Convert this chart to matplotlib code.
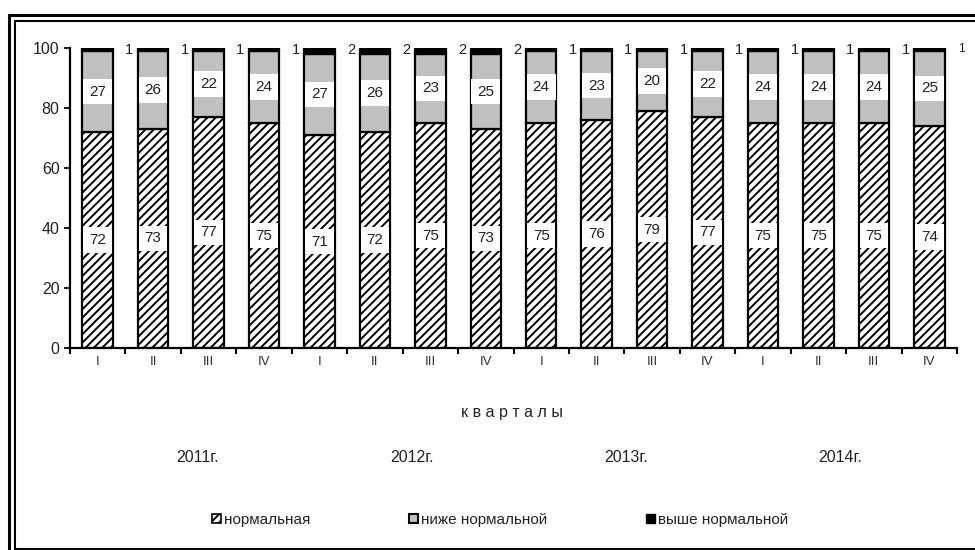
import matplotlib.pyplot as plt
import matplotlib.patches as mpatches
from matplotlib.lines import Line2D
import numpy as np

plt.rcParams['font.family'] = ['Liberation Sans', 'DejaVu Sans']
plt.rcParams['hatch.linewidth'] = 1.4

quarters = ['I', 'II', 'III', 'IV'] * 4
years = ['2011г.', '2012г.', '2013г.', '2014г.']
normal = [72, 73, 77, 75, 71, 72, 75, 73, 75, 76, 79, 77, 75, 75, 75, 74]
below = [27, 26, 22, 24, 27, 26, 23, 25, 24, 23, 20, 22, 24, 24, 24, 25]
above = [1, 1, 1, 1, 2, 2, 2, 2, 1, 1, 1, 1, 1, 1, 1, 1]
legend_labels = ['нормальная', 'ниже нормальной', 'выше нормальной']

W, H = 975, 550
fig = plt.figure(figsize=(W / 100, H / 100), dpi=100)
ax = fig.add_axes([70 / W, 1 - 348 / H, (957 - 70) / W, 300 / H])

x = np.arange(len(normal))
normal = np.array(normal)
below = np.array(below)
above = np.array(above)
bw = 0.55

ax.bar(x, normal, bw, color='white', edgecolor='black', hatch='////', linewidth=1.6)
ax.bar(x, below, bw, bottom=normal, color='#c0c0c0', edgecolor='black', linewidth=1.6)
ax.bar(x, above, bw, bottom=normal + below, color='black', edgecolor='black', linewidth=1.6)

box = dict(boxstyle='square,pad=0.38', fc='white', ec='none')
for i in x:
    ax.text(i, normal[i] / 2, str(normal[i]), ha='center', va='center',
            fontsize=11, color='#222222', bbox=box)
    ax.text(i, normal[i] + below[i] / 2, str(below[i]), ha='center', va='center',
            fontsize=11, color='#222222', bbox=box)
    fs = 8.5 if i == len(x) - 1 else 10.5
    ax.text(i + 0.57, 99.5, str(above[i]), ha='center', va='center', fontsize=fs,
            color='#222222')

ax.set_xlim(-0.5, len(x) - 0.5)
ax.set_ylim(0, 100)
ax.set_yticks(range(0, 101, 20))
ax.tick_params(axis='y', labelsize=11.5, length=4, width=1.5, colors='#222222')
ax.set_xticks(x)
ax.set_xticklabels(quarters, fontsize=9.5, color='#333333')
ax.tick_params(axis='x', length=0, pad=6)
ax.set_xticks(np.arange(-0.5, len(x), 1), minor=True)
ax.tick_params(axis='x', which='minor', length=4, width=1.5)
for s in ['top', 'right']:
    ax.spines[s].set_visible(False)
for s in ['left', 'bottom']:
    ax.spines[s].set_linewidth(1.6)

fig.text(512 / W, 1 - 413 / H, 'к в а р т а л ы', ha='center', va='center',
         fontsize=11.5, color='#222222')
for j, yr in enumerate(years):
    fig.text((198 + j * 214) / W, 1 - 457 / H, yr, ha='center', va='center',
             fontsize=11.5, color='#222222')

handles = [mpatches.Patch(facecolor='white', edgecolor='black', hatch='////', linewidth=1.2),
           mpatches.Patch(facecolor='#c0c0c0', edgecolor='black', linewidth=1.5),
           mpatches.Patch(facecolor='black', edgecolor='black')]
fig.legend(handles, legend_labels, loc='center', bbox_to_anchor=(500 / W, 1 - 520 / H),
           ncol=3, frameon=False, fontsize=11, handlelength=0.55, handleheight=0.55,
           handletextpad=0.2, columnspacing=6.5, labelcolor='#222222')

# double frame
def fline(xs, ys, lw):
    fig.add_artist(Line2D([p / W for p in xs], [1 - p / H for p in ys], color='black',
                          linewidth=lw, transform=fig.transFigure, solid_capstyle='butt'))

fline([9, 9], [14, 550], 2.2)
fline([8, W], [15, 15], 2.2)
fline([14.5, 14.5], [20, 549], 1.5)
fline([14, W], [20.5, 20.5], 1.5)
fline([14, W], [548.5, 548.5], 1.5)

plt.savefig('out.png', dpi=100)
